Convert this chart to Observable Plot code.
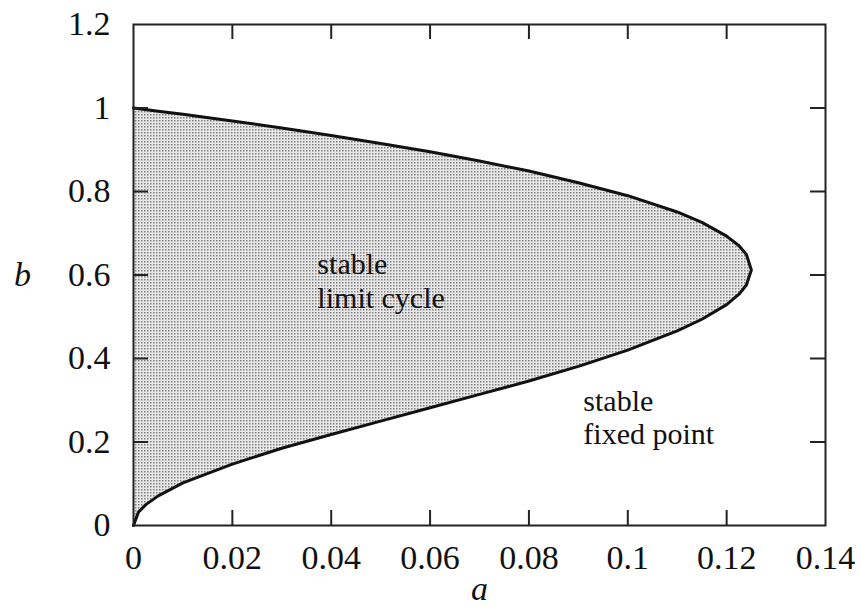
<!DOCTYPE html>
<html><head><meta charset="utf-8">
<script src="https://cdn.jsdelivr.net/npm/d3@7"></script>
<script src="https://cdn.jsdelivr.net/npm/@observablehq/plot@0.6"></script>
<style>body{margin:0;background:#fff}</style>
</head><body><div id="chart"></div>
<script>
// Boundary curve, ordered from b = 0 up to b = 1
const curveA = [0, 0.001, 0.0025, 0.005, 0.01, 0.02, 0.03, 0.04, 0.05, 0.06, 0.07, 0.08, 0.09, 0.1, 0.11, 0.115, 0.12, 0.1225, 0.124, 0.125,
                0.124, 0.1225, 0.12, 0.115, 0.11, 0.1, 0.09, 0.08, 0.07, 0.06, 0.05, 0.04, 0.03, 0.02, 0.01, 0.005, 0];
const curveB = [0, 0.032, 0.050, 0.071, 0.102, 0.147, 0.185, 0.218, 0.250, 0.282, 0.314, 0.346, 0.381, 0.420, 0.466, 0.494, 0.529, 0.554, 0.576, 0.612,
                0.649, 0.670, 0.693, 0.726, 0.751, 0.790, 0.821, 0.849, 0.873, 0.895, 0.915, 0.934, 0.952, 0.969, 0.985, 0.992, 1.0];

const xTicks = [0, 0.02, 0.04, 0.06, 0.08, 0.1, 0.12, 0.14];
const xTickLabels = ["0", "0.02", "0.04", "0.06", "0.08", "0.1", "0.12", "0.14"];
const yTicks = [0, 0.2, 0.4, 0.6, 0.8, 1, 1.2];
const yTickLabels = ["0", "0.2", "0.4", "0.6", "0.8", "1", "1.2"];

const regionLabels = ["stable\nlimit cycle", "stable\nfixed point"];
const regionA = [0.0372, 0.091];
const regionB = [0.587, 0.26];

const xAxisLabel = "a";
const yAxisLabel = "b";

const pts = curveA.map((a, i) => ({a, b: curveB[i]}));
const regions = regionLabels.map((t, i) => ({t, a: regionA[i], b: regionB[i]}));
const xInner = xTicks.slice(1, -1);
const yInner = yTicks.slice(1, -1);

const font = "'Liberation Serif', 'Times New Roman', serif";

const chart = Plot.plot({
  width: 861,
  height: 616,
  marginLeft: 133,
  marginRight: 36,
  marginTop: 24,
  marginBottom: 91,
  style: {fontFamily: font, background: "#fff", color: "#111"},
  x: {domain: [0, 0.14], axis: null},
  y: {domain: [0, 1.2], axis: null},
  marks: [
    Plot.areaX(pts, {y: "b", x1: 0, x2: "a", fill: "#d0d0d0"}),
    Plot.line(pts, {x: "a", y: "b", stroke: "#111", strokeWidth: 3, curve: "linear"}),
    Plot.frame({stroke: "#222", strokeWidth: 2}),
    Plot.tickX(xInner, {x: d => d, insetTop: 486, stroke: "#222", strokeWidth: 2}),
    Plot.tickX(xInner, {x: d => d, insetBottom: 486, stroke: "#222", strokeWidth: 2}),
    Plot.tickY(yInner, {y: d => d, insetRight: 677, stroke: "#222", strokeWidth: 2}),
    Plot.tickY(yInner, {y: d => d, insetLeft: 677, stroke: "#222", strokeWidth: 2}),
    Plot.text(xTicks, {x: d => d, frameAnchor: "bottom", text: (d, i) => xTickLabels[i], lineAnchor: "top", dy: 19, fontSize: 34, fill: "#111"}),
    Plot.text(yTicks, {y: d => d, frameAnchor: "left", text: (d, i) => yTickLabels[i], textAnchor: "end", dx: -23, fontSize: 34, fill: "#111"}),
    Plot.text(regions, {x: "a", y: "b", text: "t", textAnchor: "start", lineAnchor: "middle", lineHeight: 1.12, fontSize: 30, fill: "#111"}),
    Plot.text([xAxisLabel], {frameAnchor: "bottom", text: d => d, lineAnchor: "middle", dy: 64, fontSize: 34, fontStyle: "italic", fill: "#111"}),
    Plot.text([yAxisLabel], {frameAnchor: "left", text: d => d, textAnchor: "middle", dx: -111, fontSize: 34, fontStyle: "italic", fill: "#111"})
  ]
});

document.getElementById("chart").appendChild(chart);

// stippled fill like the printed figure
const sel = d3.select(chart);
sel.insert("defs", ":first-child").html(
  '<pattern id="stip" width="3" height="3" patternUnits="userSpaceOnUse">' +
  '<rect width="3" height="3" fill="#e8e8e8"/><rect width="1.5" height="1.5" fill="#808080"/></pattern>');
sel.selectAll('g[aria-label="area"] path').attr("fill", "url(#stip)");
</script>
</body></html>
